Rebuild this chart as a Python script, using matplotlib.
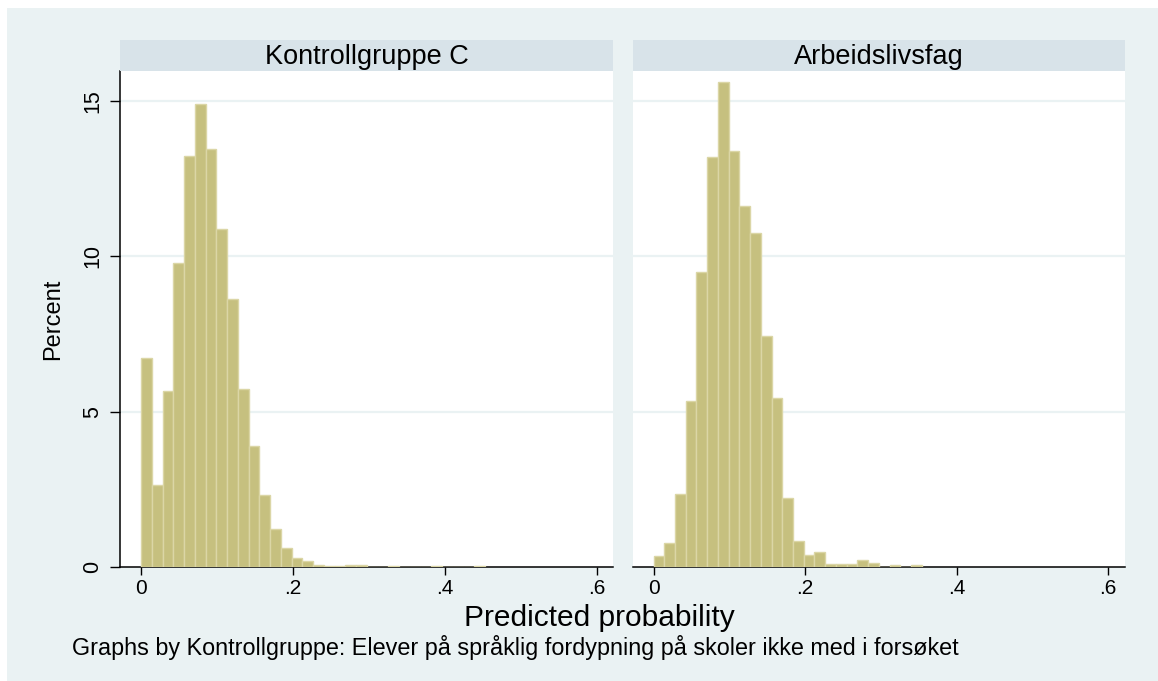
import numpy as np
import matplotlib
matplotlib.use("Agg")
import matplotlib.pyplot as plt
from matplotlib.patches import Rectangle

plt.rcParams['font.family'] = ['Liberation Sans', 'DejaVu Sans']

# Histogram data (percent per bin)
bin_start = 0.0
bin_width = 0.01416
groups = ['Kontrollgruppe C', 'Arbeidslivsfag']
pct_kontroll = [6.72, 2.64, 5.66, 9.78, 13.21, 14.89, 13.44, 10.87, 8.61, 5.72,
                3.89, 2.33, 1.22, 0.62, 0.28, 0.19, 0.06, 0.03, 0.03, 0.06,
                0.06, 0.0, 0.0, 0.03, 0.0, 0.0, 0.0, 0.03, 0.0, 0.0,
                0.0, 0.03]
pct_arbeid = [0.37, 0.77, 2.35, 5.33, 9.49, 13.20, 15.60, 13.39, 11.63, 10.74,
              7.42, 5.45, 2.22, 0.85, 0.39, 0.47, 0.10, 0.10, 0.10, 0.22,
              0.14, 0.0, 0.08, 0.0, 0.08]
xticks = [0, 0.2, 0.4, 0.6]
xticklabels = ['0', '.2', '.4', '.6']
yticks = [0, 5, 10, 15]

W, H = 1158, 681
fig = plt.figure(figsize=(W / 100, H / 100), dpi=100)
fig.patch.set_facecolor('white')

outer = '#eaf2f3'
strip_col = '#d8e3e9'
bar_col = '#c6c07f'
edge_col = '#dbd6a6'

# outer graph region
fig.patches.append(Rectangle((7 / W, 0), 1 - 7 / W, 1 - 8 / H, transform=fig.transFigure,
                             facecolor=outer, edgecolor='none', zorder=-10))

def fx(px):
    return px / W

def fy(py):
    return 1 - py / H

panels = [(120.3, 613.3), (632.7, 1124.7)]
top, bottom, strip_top = 71, 567, 40.3

for i, (data, name) in enumerate(zip([pct_kontroll, pct_arbeid], groups)):
    x0, x1 = panels[i]
    ax = fig.add_axes([fx(x0), fy(bottom), fx(x1 - x0), (bottom - top) / H])
    ax.set_facecolor('white')
    edges = bin_start + bin_width * np.arange(len(data))
    ax.bar(edges, data, width=bin_width, align='edge', color=bar_col,
           edgecolor=edge_col, linewidth=1.0, zorder=3)
    ax.set_xlim(-0.0275, 0.622)
    ax.set_ylim(0, 15.96)
    for y in yticks[1:]:
        ax.axhline(y, color=outer, linewidth=1.6, zorder=1)
    for s in ['top', 'right']:
        ax.spines[s].set_visible(False)
    ax.spines['bottom'].set_linewidth(1.1)
    ax.spines['left'].set_linewidth(1.1)
    ax.set_xticks(xticks)
    ax.set_xticklabels(xticklabels, fontsize=15)
    ax.tick_params(axis='x', length=5.5, width=1.0, pad=3.5)
    if i == 0:
        ax.set_yticks(yticks)
        ax.set_yticklabels([str(v) for v in yticks], fontsize=15.5,
                           rotation=90, va='center')
        ax.tick_params(axis='y', length=7.2, width=1.0, pad=5)
    else:
        ax.spines['left'].set_visible(False)
        ax.set_yticks([])

    sax = fig.add_axes([fx(x0), fy(top), fx(x1 - x0), (top - strip_top) / H])
    sax.set_facecolor(strip_col)
    sax.set_xticks([])
    sax.set_yticks([])
    for s in sax.spines.values():
        s.set_visible(False)
    sax.text(0.5, 0.47, name, ha='center', va='center', fontsize=19.5,
             transform=sax.transAxes)

fig.text(fx(53), fy((top + bottom) / 2), 'Percent', rotation=90,
         ha='center', va='center', fontsize=17)
fig.text(fx(599), fy(618), 'Predicted probability', ha='center', va='center',
         fontsize=21.5)
fig.text(fx(72), fy(647),
         'Graphs by Kontrollgruppe: Elever på språklig fordypning på skoler ikke med i forsøket',
         ha='left', va='center', fontsize=16.8)

fig.savefig('out.png', dpi=100, facecolor=fig.get_facecolor())
